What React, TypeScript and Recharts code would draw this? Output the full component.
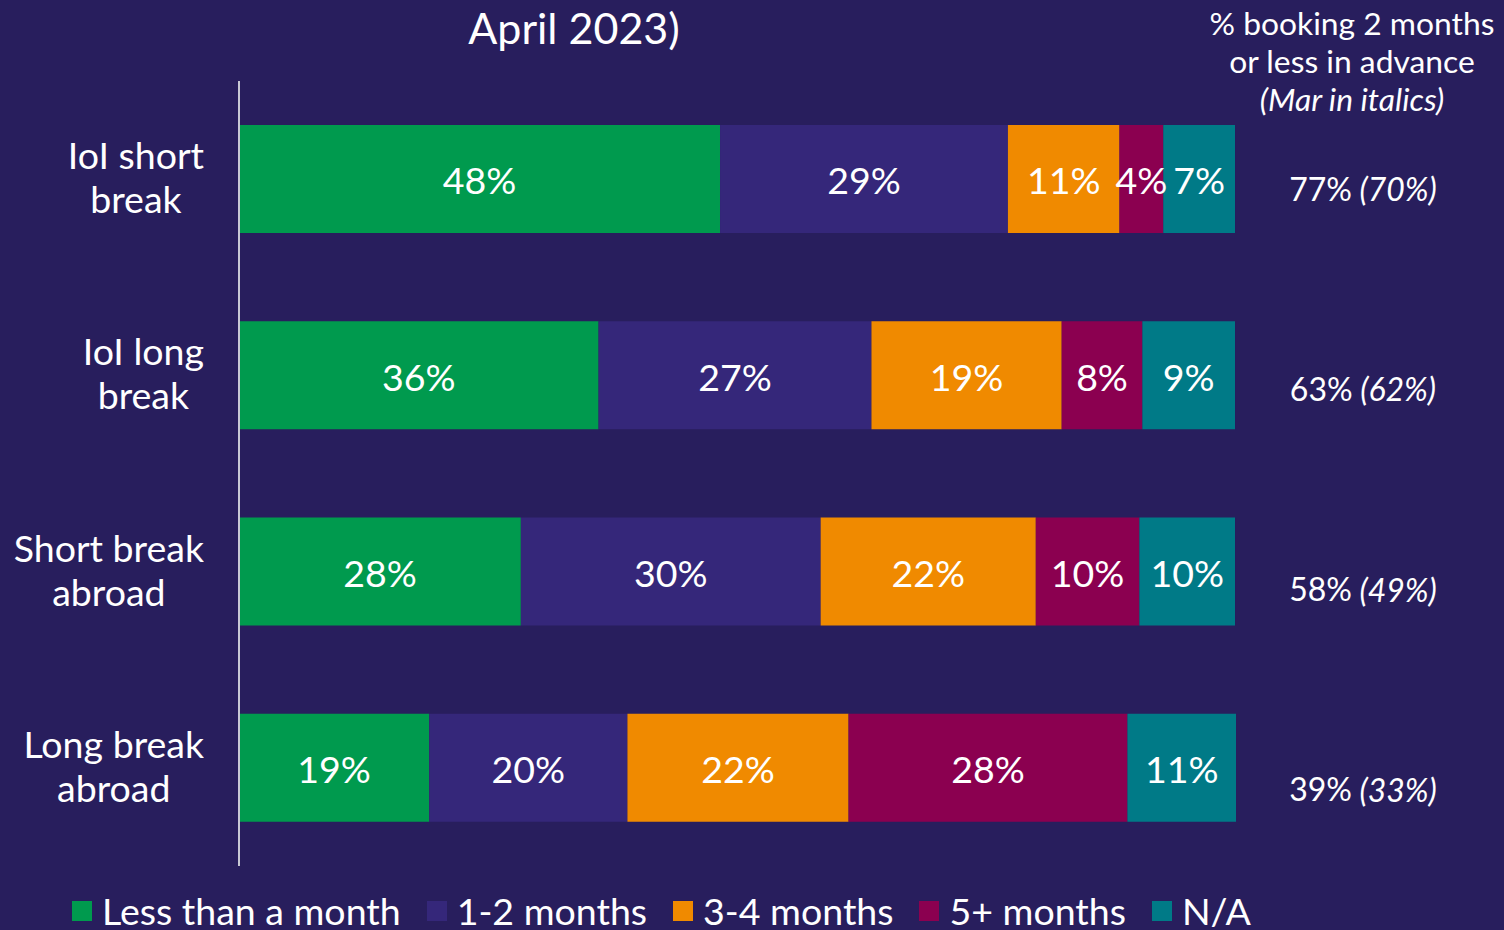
import React from 'react';
import { BarChart, Bar, XAxis, YAxis, LabelList } from 'recharts';

const categories = ['IoI short break', 'IoI long break', 'Short break abroad', 'Long break abroad'];
const categoryLines = [
  ['IoI short', 'break'],
  ['IoI long', 'break'],
  ['Short break', 'abroad'],
  ['Long break', 'abroad'],
];
const lessThanMonth = [48.3, 36.1, 28.3, 19.1];
const oneToTwoMonths = [28.9, 27.4, 30.1, 19.9];
const threeToFourMonths = [11.2, 19.1, 21.6, 22.2];
const fivePlusMonths = [4.4, 8.1, 10.4, 28.0];
const notApplicable = [7.2, 9.3, 9.6, 10.9];
const aprilShare = [77, 63, 58, 39];
const marchShare = [70, 62, 49, 33];
const seriesKeys = ['less', 'oneTwo', 'threeFour', 'fivePlus', 'na'];
const seriesNames = ['Less than a month', '1-2 months', '3-4 months', '5+ months', 'N/A'];
const seriesColors = ['#009a4e', '#35277a', '#f08a00', '#8b0050', '#007a87'];
const titleText = 'April 2023)';
const sideHeader = ['% booking 2 months', 'or less in advance', '(Mar in italics)'];

const BG = '#281e5d';
const FONT = 'Lato, "Noto Sans", sans-serif';

const data = categories.map((name, i) => ({
  name,
  idx: i,
  less: lessThanMonth[i],
  oneTwo: oneToTwoMonths[i],
  threeFour: threeToFourMonths[i],
  fivePlus: fivePlusMonths[i],
  na: notApplicable[i],
}));

const LeftTick = (props: any) => {
  const { y, index } = props;
  const lines = categoryLines[index] || [props.payload?.value];
  return (
    <foreignObject x={0} y={y - 52} width={204} height={100}>
      <div
        style={{
          width: 204,
          height: 100,
          display: 'flex',
          justifyContent: 'flex-end',
          alignItems: 'center',
          fontFamily: FONT,
          fontSize: 37.5,
          color: '#ffffff',
        }}
      >
        <div style={{ textAlign: 'center', lineHeight: '44px' }}>
          {lines.map((l: string, k: number) => (
            <div key={k} style={{ whiteSpace: 'nowrap' }}>{l}</div>
          ))}
        </div>
      </div>
    </foreignObject>
  );
};

// annotations column is spaced slightly wider than the bar bands
const RightTick = (props: any) => {
  const { y, index } = props;
  const yy = 188 + (y - 179) * (200 / 196);
  return (
    <text
      x={1363}
      y={yy}
      textAnchor="middle"
      dominantBaseline="central"
      fill="#ffffff"
      fontFamily={FONT}
      fontSize={32}
    >
      {aprilShare[index]}%
      <tspan fontStyle="italic"> ({marchShare[index]}%)</tspan>
    </text>
  );
};

const LegendBlock = () => (
  <div
    style={{
      position: 'absolute',
      left: 72,
      top: 890,
      display: 'flex',
      alignItems: 'center',
      fontFamily: FONT,
      fontSize: 37.5,
      lineHeight: '42px',
      color: '#ffffff',
      whiteSpace: 'nowrap',
    }}
  >
    {seriesNames.map((n, i) => (
      <div key={n} style={{ display: 'flex', alignItems: 'center', marginRight: 26 }}>
        <div style={{ width: 20, height: 20, background: seriesColors[i], marginRight: 10 }} />
        <span>{n}</span>
      </div>
    ))}
  </div>
);

export default function App() {
  return (
    <div
      style={{
        position: 'absolute',
        left: 0,
        top: 0,
        width: 1504,
        height: 930,
        background: BG,
        overflow: 'hidden',
        fontFamily: FONT,
      }}
    >
      <div
        style={{
          position: 'absolute',
          left: 374,
          width: 400,
          top: 2,
          textAlign: 'center',
          color: '#fff',
          fontSize: 43,
          lineHeight: '52px',
        }}
      >
        {titleText}
      </div>
      <div
        style={{
          position: 'absolute',
          left: 1202,
          width: 300,
          top: 4,
          textAlign: 'center',
          color: '#fff',
          fontSize: 31.8,
          lineHeight: '38px',
        }}
      >
        <div>{sideHeader[0]}</div>
        <div>{sideHeader[1]}</div>
        <div style={{ fontStyle: 'italic' }}>{sideHeader[2]}</div>
      </div>
      <BarChart
        width={1504}
        height={930}
        data={data}
        layout="vertical"
        margin={{ top: 81, right: 0, bottom: 64, left: 0 }}
        barSize={108}
      >
        <XAxis type="number" domain={[0, 100]} hide />
        <YAxis
          yAxisId="left"
          type="category"
          dataKey="name"
          width={239}
          axisLine={{ stroke: '#c8c8d4', strokeWidth: 2 }}
          tickLine={false}
          tick={<LeftTick />}
          interval={0}
        />
        <YAxis
          yAxisId="right"
          orientation="right"
          type="category"
          dataKey="name"
          width={268}
          axisLine={false}
          tickLine={false}
          tick={<RightTick />}
          interval={0}
        />
        {seriesKeys.map((k, i) => (
          <Bar
            key={k}
            dataKey={k}
            name={seriesNames[i]}
            stackId="a"
            yAxisId="left"
            fill={seriesColors[i]}
            isAnimationActive={false}
          >
            <LabelList
              dataKey={k}
              position="center"
              fill="#ffffff"
              fontSize={37.5}
              fontFamily={FONT}
              dy={2}
              formatter={(v: any) => `${Math.round(Number(v))}%`}
            />
          </Bar>
        ))}
      </BarChart>
      <LegendBlock />
    </div>
  );
}
